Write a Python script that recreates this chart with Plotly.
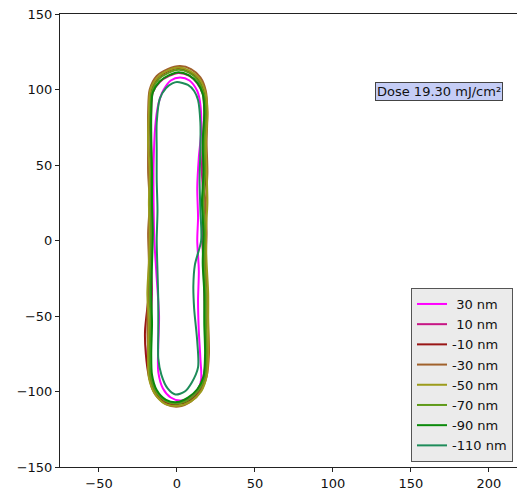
import plotly.graph_objects as go

focus_labels = ["\u00a030 nm", "\u00a010 nm", "-10 nm", "-30 nm", "-50 nm", "-70 nm", "-90 nm", "-110 nm"]
colors = ["#ff00ff", "#c71585", "#991515", "#a0612b", "#9c9c1c", "#5f9a1a", "#0b8a0b", "#1e8c5a"]

x_30 = [2, 8, 13, 15, 15.5, 14, 13, 13.5, 13, 14, 13.5, 14, 15, 15.5, 13, 8, 2, -4, -9, -12, -12, -11.5, -13, -14.5, -15, -15, -14, -12, -9, -4, 2]
y_30 = [108, 106, 99, 90, 72, 55, 35, 15, 0, -20, -40, -60, -78, -92, -100, -104, -106, -104, -98, -87, -70, -50, -25, 0, 25, 50, 75, 90, 99, 106, 108]

x_10 = [1, 8, 13, 16.5, 17.5, 16.5, 16, 17, 16, 17, 17.5, 18, 18.5, 17, 13, 7, 0, -7, -13, -16.5, -19, -17.5, -16, -16.5, -16, -16.5, -16, -16.5, -16.5, -15.5, -11, -5, 1]
y_10 = [111, 109, 104, 97, 85, 65, 45, 25, 5, -15, -35, -55, -75, -90, -99, -105, -107.5, -106, -100, -90, -75, -60, -35, -15, 5, 25, 45, 65, 85, 98, 105, 109, 111]

x_m10 = [0, 7, 13, 17, 18.5, 17.5, 18.5, 17, 18, 17.5, 18, 18.5, 19, 18, 14, 8, 0, -8, -14, -18, -20, -20.5, -18, -17, -17.5, -16.5, -17.5, -17, -17.5, -16.5, -12, -6, 0]
y_m10 = [114, 112, 108, 99, 85, 65, 45, 25, 5, -15, -35, -55, -75, -90, -100, -106, -108.5, -107, -101, -90, -75, -60, -35, -15, 5, 25, 45, 65, 85, 100, 108, 112, 114]

x_m30 = [2, 9, 15, 18.5, 19.5, 19, 19.5, 18.5, 19, 18.5, 19.5, 20, 20.5, 19, 15, 9, 1, -7, -14, -17.5, -18.5, -19, -18.5, -18, -18.5, -17.5, -18.5, -18.5, -18.5, -17.5, -13, -6, 2]
y_m30 = [115.5, 113.5, 108, 99, 85, 65, 45, 25, 5, -15, -35, -55, -75, -90, -100, -106.5, -110, -108.5, -102, -92, -75, -55, -35, -15, 5, 25, 45, 65, 85, 100, 109, 113.5, 115.5]

x_m50 = [1, 8, 14, 18, 19.5, 18.5, 19, 19.5, 18.5, 19, 20, 20, 20, 19, 15.5, 9, 0, -8, -14.5, -18, -18.5, -18, -19, -18, -17.5, -18, -17.5, -18.5, -18, -17, -12, -6, 1]
y_m50 = [114.5, 112.5, 107.5, 99, 85, 65, 45, 25, 5, -15, -35, -55, -75, -90, -100, -106.5, -109.5, -108, -101, -91, -75, -55, -35, -15, 5, 25, 45, 65, 85, 100, 108.5, 112.5, 114.5]

x_m70 = [1, 8, 13.5, 17, 18.5, 17.5, 18, 17, 18, 17.5, 18.5, 18.5, 19, 18, 14, 8, 0, -7, -13.5, -17, -17.5, -17, -17.5, -17, -16.5, -17, -16.5, -17, -17, -16, -11.5, -5.5, 1]
y_m70 = [113, 111, 106, 98, 85, 65, 45, 25, 5, -15, -35, -55, -75, -90, -99, -105, -108, -106.5, -100, -90, -75, -55, -35, -15, 5, 25, 45, 65, 85, 99, 107, 111, 113]

x_m90 = [1, 7.5, 13, 16.5, 17.5, 16.5, 17, 16, 17, 16.5, 17.5, 17.5, 18, 17, 13, 7, 0, -7, -13, -16, -16.5, -16, -16.5, -16, -15.5, -16, -16, -16.5, -16.5, -15.5, -11, -5, 1]
y_m90 = [111.5, 109.5, 104.5, 97, 85, 65, 45, 25, 5, -15, -35, -55, -75, -90, -98.5, -104, -107, -105.5, -99, -89, -75, -55, -35, -15, 5, 25, 45, 65, 85, 98, 105.5, 109.5, 111.5]

x_m110 = [0, 7, 11, 13.5, 15, 15, 14.5, 15, 15.5, 11.5, 10.5, 11, 13, 13.5, 9.5, 5, -1, -6, -10, -12, -12, -12, -12.5, -13, -12.5, -13, -13, -13, -11, -7, -3, 0]
y_m110 = [105, 103, 99, 93, 78, 60, 40, 20, 0, -16, -30, -45, -67, -84, -94, -100, -102, -98, -89, -78, -60, -40, -20, 0, 20, 40, 60, 78, 94, 101, 104, 105]

xs = [x_30, x_10, x_m10, x_m30, x_m50, x_m70, x_m90, x_m110]
ys = [y_30, y_10, y_m10, y_m30, y_m50, y_m70, y_m90, y_m110]

dose_text = "Dose 19.30 mJ/cm²"

fig = go.Figure()
for i, (name, col, x, y) in enumerate(zip(focus_labels, colors, xs, ys)):
    fig.add_trace(go.Scatter(x=x, y=y, mode="lines", name=name, legendgroup=f"g{i}",
                             line=dict(color=col, width=2, shape="spline", smoothing=0.8)))

fig.add_annotation(x=168, y=99, xref="x", yref="y", text=dose_text, showarrow=False,
                   font=dict(size=13, color="#111", family="DejaVu Sans"),
                   bgcolor="#c5cdf6", bordercolor="#444", borderwidth=1, borderpad=1)

fig.update_layout(
    width=600, height=493,
    margin=dict(l=60, r=0, t=14, b=26),
    paper_bgcolor="white", plot_bgcolor="white",
    font=dict(family="DejaVu Sans", size=13, color="#111"),
    showlegend=True,
    legend=dict(x=0.65, y=0.011, xanchor="left", yanchor="bottom",
                bgcolor="#ebebeb", bordercolor="#555", borderwidth=1,
                font=dict(size=13, family="DejaVu Sans"), tracegroupgap=0.3),
)
fig.update_xaxes(range=[-75, 271.2], showgrid=False, zeroline=False, showline=True, mirror=True,
                 linecolor="#222", linewidth=1, ticks="outside", ticklen=4, tickcolor="#222",
                 tickvals=[-50, 0, 50, 100, 150, 200])
fig.update_yaxes(range=[-150, 150], showgrid=False, zeroline=False, showline=True, mirror=False,
                 linecolor="#222", linewidth=1, ticks="outside", ticklen=4, tickcolor="#222",
                 tickvals=[-150, -100, -50, 0, 50, 100, 150])

fig.write_html("out.html", config={"displayModeBar": False},
               post_script="document.body.style.margin='0';document.body.style.overflow='hidden';"
                           "document.documentElement.style.overflow='hidden';")
